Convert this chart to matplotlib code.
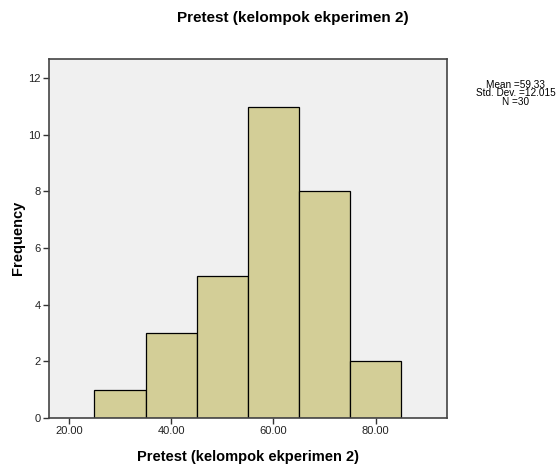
import matplotlib
matplotlib.use("Agg")
import matplotlib.pyplot as plt
import numpy as np

# histogram bins (edges) and frequencies
bin_edges = [25, 35, 45, 55, 65, 75, 85]
counts = [1, 3, 5, 11, 8, 2]
x_ticks = [20, 40, 60, 80]
y_ticks = [0, 2, 4, 6, 8, 10, 12]
stats_lines = ["Mean =59.33", "Std. Dev. =12.015", "N =30"]
title = "Pretest (kelompok ekperimen 2)"
xlabel = "Pretest (kelompok ekperimen 2)"
ylabel = "Frequency"

plt.rcParams["font.family"] = ["Liberation Sans", "DejaVu Sans"]

W, H = 559, 465
fig = plt.figure(figsize=(W / 100, H / 100), dpi=100)
ax = fig.add_axes([49 / W, 1 - 418 / H, (446.7 - 49) / W, (418 - 59.5) / H])
ax.set_facecolor("#F0F0F0")

lefts = np.array(bin_edges[:-1])
widths = np.diff(bin_edges)
ax.bar(lefts, counts, width=widths, align="edge",
       color="#D3CE97", edgecolor="black", linewidth=0.9, zorder=2)

ax.set_xlim(16.1, 93.9)
ax.set_ylim(0, 12.66)
ax.set_xticks(x_ticks)
ax.set_xticklabels([f"{v:.2f}" for v in x_ticks], fontsize=8, color="#222")
ax.set_yticks(y_ticks)
ax.set_yticklabels([str(v) for v in y_ticks], fontsize=8, color="#222")
ax.tick_params(length=4, width=1, color="#333", pad=2)

for side in ["left", "right", "top", "bottom"]:
    ax.spines[side].set_color("#444")
    ax.spines[side].set_linewidth(1.2)

# axis labels placed in figure pixels so they sit where the original has them
fig.text(248 / W, 1 - 457 / H, xlabel, ha="center", va="center",
         fontsize=10.5, fontweight="bold")
fig.text(18 / W, 1 - 238 / H, ylabel, ha="center", va="center",
         rotation=90, fontsize=10.5, fontweight="bold")

fig.text(293 / W, 1 - 18 / H, title, ha="center", va="center",
         fontsize=11, fontweight="bold")

for i, line in enumerate(stats_lines):
    fig.text(516 / W, 1 - (84.5 + i * 8.8) / H, line, ha="center", va="center",
             fontsize=7.2)

fig.savefig("out.png", dpi=100)
